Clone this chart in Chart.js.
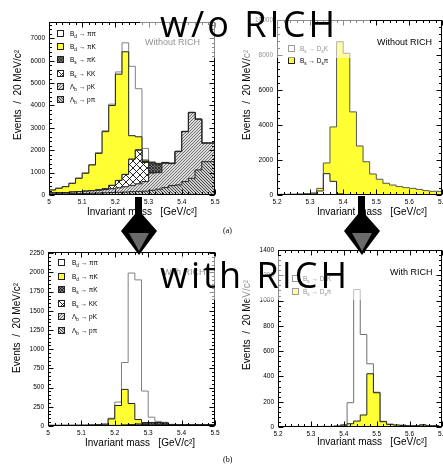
<!DOCTYPE html>
<html lang="en">
<head>
<meta charset="UTF-8">
<title>Invariant mass with and without RICH</title>
<script src="https://cdn.jsdelivr.net/npm/chart.js"></script>
<style>
  html, body { margin: 0; padding: 0; background: #fff; }
  body { position: relative; width: 443px; height: 464px; overflow: hidden; font-family: 'Liberation Sans', Arial, sans-serif; color: #000; }
  canvas.panel { position: absolute; }
  .ytitle { position: absolute; transform-origin: 0 0; transform: rotate(-90deg); white-space: nowrap; font-size: 10px; line-height: 10px; }
  .xtitle { position: absolute; white-space: nowrap; font-size: 10px; line-height: 10px; }
  .tag { position: absolute; white-space: nowrap; font-size: 9px; line-height: 9px; }
  .legend { position: absolute; font-size: 6.5px; line-height: 7px; }
  .legend .row { position: absolute; left: 0; white-space: nowrap; height: 7px; }
  .legend .sw { position: absolute; left: 0; top: 0; width: 5px; height: 5px; border: 1px solid #222; }
  .legend .txt { position: absolute; top: 0; }
  sub { font-size: 0.72em; vertical-align: -0.35em; line-height: 0; }
  #over { position: absolute; left: 0; top: 0; }
</style>
</head>
<body>

<canvas id="tl" class="panel" width="225" height="225" style="left:0;top:0"></canvas>
<canvas id="tr" class="panel" width="225" height="225" style="left:225px;top:0"></canvas>
<canvas id="bl" class="panel" width="225" height="225" style="left:0;top:230px"></canvas>
<canvas id="br" class="panel" width="225" height="225" style="left:225px;top:230px"></canvas>

<div class="ytitle" style="left:13px;top:140px">Events &nbsp;/ &nbsp;20 MeV/c²</div>
<div class="ytitle" style="left:242px;top:140px">Events &nbsp;/ &nbsp;20 MeV/c²</div>
<div class="ytitle" style="left:12px;top:373px">Events &nbsp;/ &nbsp;20 MeV/c²</div>
<div class="ytitle" style="left:242px;top:370px">Events &nbsp;/ &nbsp;20 MeV/c²</div>

<div class="xtitle" style="left:87px;top:207px">Invariant mass &nbsp;&nbsp;[GeV/c²]</div>
<div class="xtitle" style="left:317px;top:207px">Invariant mass &nbsp;&nbsp;[GeV/c²]</div>
<div class="xtitle" style="left:85px;top:438px">Invariant mass &nbsp;&nbsp;[GeV/c²]</div>
<div class="xtitle" style="left:317px;top:437px">Invariant mass &nbsp;&nbsp;[GeV/c²]</div>

<div class="tag" style="left:145px;top:38px">Without RICH</div>
<div class="tag" style="left:377px;top:38px">Without RICH</div>
<div class="tag" style="left:163px;top:268px">With RICH</div>
<div class="tag" style="left:390px;top:268px">With RICH</div>

<div id="leg-tl" class="legend" style="left:57px;top:30px"></div>
<div id="leg-tr" class="legend" style="left:288px;top:45px"></div>
<div id="leg-bl" class="legend" style="left:58px;top:259px"></div>
<div id="leg-br" class="legend" style="left:292px;top:275px"></div>

<svg id="over" width="443" height="464">
  <rect x="140" y="0" width="230" height="58" fill="#fff" fill-opacity="0.55"/>
  <rect x="150" y="256" width="225" height="44" fill="#fff" fill-opacity="0.55"/>
  <text x="160" y="37" font-family="'Open Sans', sans-serif" font-size="36" textLength="175" lengthAdjust="spacing">w/o RICH</text>
  <text x="160" y="288" font-family="'Open Sans', sans-serif" font-size="36" textLength="187" lengthAdjust="spacing">with RICH</text>
  <path d="M135,197 L142,197 L142,214 L157,231 L139,255 L121,231 L135,214 Z" fill="#000"/>
  <path d="M129,233 L149,233 L139,251 Z" fill="#6a6a6a"/>
  <path d="M358,196 L365,196 L365,214 L380,231 L362,255 L344,231 L358,214 Z" fill="#000"/>
  <path d="M352,233 L372,233 L362,251 Z" fill="#6a6a6a"/>
  <text x="223" y="233" font-family="'Liberation Serif', serif" font-size="8">(a)</text>
  <text x="223" y="462" font-family="'Liberation Serif', serif" font-size="8">(b)</text>
</svg>

<script>
// 20 MeV/c2 bins
const BIN = 0.02;

// (a) without RICH: B -> h+h- under the pi pi hypothesis, 5.00 - 5.50, stacked bottom first
const aLbPpi  = [40, 40, 50, 50, 60, 60, 70, 80, 90, 100, 110, 120, 130, 150, 160, 170, 210, 260, 330, 420, 450, 600, 745, 1120, 1490];
const aLbPK   = [40, 50, 50, 60, 70, 90, 100, 110, 120, 140, 170, 200, 240, 280, 340, 430, 770, 740, 1090, 980, 1490, 2230, 2935, 2260, 820];
const aBsKK   = [0, 0, 0, 0, 0, 0, 0, 10, 20, 40, 150, 330, 550, 1170, 1500, 850, 20, 0, 0, 0, 0, 0, 0, 0, 0];
const aBsPiK  = [0, 0, 0, 0, 0, 0, 0, 0, 0, 0, 0, 0, 0, 0, 20, 50, 430, 370, 20, 10, 0, 0, 0, 0, 0];
const aBdPiK  = [110, 130, 200, 260, 390, 595, 800, 1140, 1630, 2550, 3570, 4750, 5480, 1050, 580, 60, 30, 30, 10, 10, 10, 10, 10, 10, 10];
const aBdPiPi = [10, 10, 10, 10, 10, 15, 20, 20, 30, 40, 60, 100, 400, 3100, 2150, 520, 20, 20, 10, 10, 10, 10, 10, 10, 10];

// (a) without RICH: Bs -> Ds h, 5.20 - 5.70
const aDsK  = [20, 20, 20, 20, 30, 40, 60, 230, 1220, 780, 60, 30, 20, 10, 10, 10, 10, 10, 10, 10, 10, 10, 10, 10, 10];
const aDsPi = [20, 20, 20, 30, 30, 40, 60, 150, 610, 3110, 8700, 8070, 4730, 2790, 1890, 1190, 890, 660, 560, 470, 410, 370, 310, 240, 200];

// (b) with RICH: B -> h+h-, 5.00 - 5.50
const bLbPpi  = [2, 2, 2, 2, 2, 2, 2, 3, 3, 3, 3, 3, 3, 3, 4, 4, 4, 5, 5, 6, 6, 7, 8, 8, 8];
const bLbPK   = [3, 3, 3, 3, 3, 3, 3, 3, 4, 4, 4, 4, 4, 5, 5, 6, 6, 8, 8, 8, 8, 10, 10, 10, 8];
const bBsKK   = [0, 0, 0, 0, 0, 0, 0, 0, 0, 0, 0, 0, 5, 10, 15, 10, 5, 0, 0, 0, 0, 0, 0, 0, 0];
const bBsPiK  = [0, 0, 0, 0, 0, 0, 0, 0, 0, 0, 0, 0, 0, 0, 0, 10, 25, 30, 25, 5, 0, 0, 0, 0, 0];
const bBdPiK  = [3, 3, 3, 4, 4, 5, 6, 8, 10, 15, 85, 260, 465, 275, 60, 15, 5, 2, 2, 0, 0, 0, 0, 0, 0];
const bBdPiPi = [2, 2, 2, 2, 2, 2, 2, 2, 3, 5, 10, 45, 350, 1700, 1820, 410, 70, 15, 8, 3, 2, 2, 2, 2, 2];

// (b) with RICH: Bs -> Ds h, bins start at 5.21
const bDsPi = [2, 2, 2, 2, 2, 2, 2, 3, 3, 5, 10, 26, 47, 95, 421, 271, 42, 21, 15, 12, 10, 10, 15, 10];
const bDsK  = [1, 1, 1, 1, 1, 1, 2, 2, 2, 5, 10, 166, 1040, 637, 79, 4, 3, 1, 0, 3, 0, 0, 5, 2];

// axis tick labels
const hhMassTicks = [5.0, 5.1, 5.2, 5.3, 5.4, 5.5];
const dsMassTicks = [5.2, 5.3, 5.4, 5.5, 5.6, 5.7];
const aHhCountTicks = [0, 1000, 2000, 3000, 4000, 5000, 6000, 7000];
const aDsCountTicks = [0, 2000, 4000, 6000, 8000, 10000];
const bHhCountTicks = [0, 250, 500, 750, 1000, 1250, 1500, 1750, 2000, 2250];
const bDsCountTicks = [0, 200, 400, 600, 800, 1000, 1200, 1400];

const hhNames = ['B<sub>d</sub> → ππ', 'B<sub>d</sub> → πK', 'B<sub>s</sub> → πK', 'B<sub>s</sub> → KK', 'Λ<sub>b</sub> → pK', 'Λ<sub>b</sub> → pπ'];
const dsNames = ['B<sub>s</sub> → D<sub>s</sub>K', 'B<sub>s</sub> → D<sub>s</sub>π'];

Chart.defaults.font.family = "'Liberation Sans', Arial, sans-serif";

// small hatch tiles used as fill patterns
function tile(size, bg, fg, dirs, lw) {
  const c = document.createElement('canvas');
  c.width = c.height = size;
  const g = c.getContext('2d');
  g.fillStyle = bg;
  g.fillRect(0, 0, size, size);
  g.strokeStyle = fg;
  g.lineWidth = lw;
  g.beginPath();
  dirs.forEach(d => {
    [-size, 0, size].forEach(o => {
      if (d === '/') { g.moveTo(o, size); g.lineTo(o + size, 0); }
      else { g.moveTo(o, 0); g.lineTo(o + size, size); }
    });
  });
  g.stroke();
  return c;
}
const pctx = document.createElement('canvas').getContext('2d');
function fillOf(t) { return { pattern: pctx.createPattern(t, 'repeat'), css: 'url(' + t.toDataURL() + ')' }; }

const YELLOW = { pattern: '#ffff33', css: '#ffff33' };
const WHITE = { pattern: '#ffffff', css: '#ffffff' };
const fKK = fillOf(tile(7, '#fff', '#111', ['/', '\\'], 0.9));
const fPiKs = fillOf(tile(3, '#777', '#222', ['/', '\\'], 0.8));
const fPK = fillOf(tile(3, '#dcdcdc', '#555', ['/'], 0.8));
const fPpi = fillOf(tile(3, '#cfcfcf', '#333', ['\\'], 0.9));

// box frame with inward major/minor ticks on all four sides
const frame = {
  id: 'frame',
  afterDatasetsDraw(chart, args, o) {
    const { ctx, chartArea: a, scales: { x, y } } = chart;
    const L = Math.round(a.left) + 0.5, R = Math.round(a.right) - 0.5;
    const T = Math.round(a.top) + 0.5, B = Math.round(a.bottom) - 0.5;
    ctx.save();
    ctx.strokeStyle = '#000';
    ctx.lineWidth = 1;
    ctx.beginPath();
    const nx = Math.round((x.max - x.min) / o.xMinor);
    for (let i = 0; i <= nx; i++) {
      const px = Math.round(x.getPixelForValue(x.min + i * o.xMinor)) + 0.5;
      const len = i % 5 === 0 ? 5 : 2.5;
      ctx.moveTo(px, B); ctx.lineTo(px, B - len);
      ctx.moveTo(px, T); ctx.lineTo(px, T + len);
    }
    const ny = Math.floor((y.max - y.min) / o.yMinor + 1e-6);
    for (let i = 0; i <= ny; i++) {
      const py = Math.round(y.getPixelForValue(y.min + i * o.yMinor)) + 0.5;
      const len = i % 5 === 0 ? 5 : 2.5;
      ctx.moveTo(L, py); ctx.lineTo(L + len, py);
      ctx.moveTo(R, py); ctx.lineTo(R - len, py);
    }
    ctx.stroke();
    ctx.strokeRect(L, T, R - L, B - T);
    ctx.restore();
  }
};

function panel(id, p) {
  const n = p.series[0].values.length;
  const edges = [];
  for (let i = 0; i <= n; i++) edges.push(+(p.lo + i * BIN).toFixed(3));
  const datasets = p.series.map((s, i) => ({
    label: s.name,
    data: s.values.map((v, k) => ({ x: edges[k], y: v })).concat([{ x: edges[n], y: s.values[n - 1] }]),
    stepped: 'after',
    fill: i === 0 ? 'origin' : '-1',
    backgroundColor: s.fill.pattern,
    borderColor: s.line,
    borderWidth: 1,
    pointRadius: 0
  }));
  const chart = new Chart(document.getElementById(id), {
    type: 'line',
    data: { datasets },
    options: {
      responsive: false,
      animation: false,
      devicePixelRatio: 1,
      layout: { padding: { top: p.box.top, right: 225 - p.box.right, left: 0, bottom: 0 } },
      plugins: {
        legend: { display: false },
        tooltip: { enabled: false },
        frame: { xMinor: BIN, yMinor: p.yTicks[1] / 5 }
      },
      scales: {
        x: {
          type: 'linear', min: p.xTicks[0], max: p.xTicks[p.xTicks.length - 1],
          grid: { display: false, drawTicks: false }, border: { display: false },
          afterBuildTicks: s => { s.ticks = p.xTicks.map(v => ({ value: v })); },
          ticks: { padding: 3, maxRotation: 0, autoSkip: false,
                   font: { size: 6.5 }, color: '#000', callback: v => String(+v.toFixed(1)) },
          afterFit: s => { s.height = 225 - p.box.bottom; }
        },
        y: {
          stacked: true, min: 0, max: p.yMax,
          grid: { display: false, drawTicks: false }, border: { display: false },
          afterBuildTicks: s => { s.ticks = p.yTicks.map(v => ({ value: v })); },
          ticks: { padding: 4, autoSkip: false,
                   font: { size: 6.5 }, color: '#000', callback: v => String(v) },
          afterFit: s => { s.width = p.box.left; }
        }
      }
    },
    plugins: [frame]
  });

  // legend rows, drawn as html so the subscripts stay real text
  const leg = document.getElementById(p.legend.id);
  p.legend.order.forEach((k, r) => {
    const s = p.series[k];
    const row = document.createElement('div');
    row.className = 'row';
    row.style.top = (r * p.legend.pitch) + 'px';
    row.innerHTML = '<span class="sw"></span><span class="txt" style="left:' + p.legend.gap + 'px">' + s.name + '</span>';
    row.firstChild.style.background = s.fill.css;
    leg.appendChild(row);
  });
  return chart;
}

const hhSeries = (pp, pk, kk, pks, pkd, pipi) => [
  { name: hhNames[5], values: pp, fill: fPpi, line: '#222' },
  { name: hhNames[4], values: pk, fill: fPK, line: '#222' },
  { name: hhNames[3], values: kk, fill: fKK, line: '#222' },
  { name: hhNames[2], values: pks, fill: fPiKs, line: '#222' },
  { name: hhNames[1], values: pkd, fill: YELLOW, line: '#222' },
  { name: hhNames[0], values: pipi, fill: WHITE, line: '#808080' }
];

panel('tl', {
  lo: 5.0, xTicks: hhMassTicks, yTicks: aHhCountTicks, yMax: 7730,
  box: { left: 49, right: 215, top: 22, bottom: 195 },
  series: hhSeries(aLbPpi, aLbPK, aBsKK, aBsPiK, aBdPiK, aBdPiPi),
  legend: { id: 'leg-tl', order: [5, 4, 3, 2, 1, 0], pitch: 13.2, gap: 13 }
});

panel('tr', {
  lo: 5.2, xTicks: dsMassTicks, yTicks: aDsCountTicks, yMax: 10000,
  box: { left: 52, right: 219, top: 20, bottom: 195 },
  series: [
    { name: dsNames[0], values: aDsK, fill: WHITE, line: '#222' },
    { name: dsNames[1], values: aDsPi, fill: YELLOW, line: '#555' }
  ],
  legend: { id: 'leg-tr', order: [0, 1], pitch: 12, gap: 12 }
});

panel('bl', {
  lo: 5.0, xTicks: hhMassTicks, yTicks: bHhCountTicks, yMax: 2267,
  box: { left: 48, right: 215, top: 22, bottom: 196 },
  series: hhSeries(bLbPpi, bLbPK, bBsKK, bBsPiK, bBdPiK, bBdPiPi),
  legend: { id: 'leg-bl', order: [5, 4, 3, 2, 1, 0], pitch: 13.5, gap: 14 }
});

panel('br', {
  lo: 5.21, xTicks: dsMassTicks, yTicks: bDsCountTicks, yMax: 1400,
  box: { left: 53, right: 219, top: 20, bottom: 197 },
  series: [
    { name: dsNames[1], values: bDsPi, fill: YELLOW, line: '#222' },
    { name: dsNames[0], values: bDsK, fill: WHITE, line: '#707070' }
  ],
  legend: { id: 'leg-br', order: [1, 0], pitch: 13, gap: 11 }
});
</script>
</body>
</html>
